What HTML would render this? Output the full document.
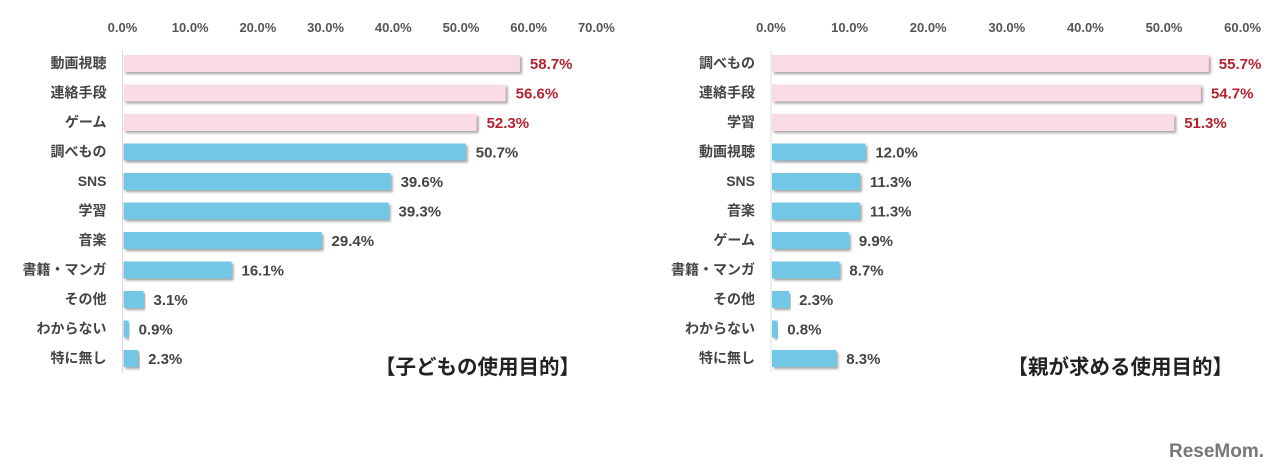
<!DOCTYPE html>
<html><head><meta charset="utf-8"><style>
html,body{margin:0;padding:0;background:#fff;width:1280px;height:473px;overflow:hidden}
svg{display:block}
text{font-family:"Liberation Sans","Noto Sans CJK JP",sans-serif}
</style></head><body>
<svg id="svg" width="1280" height="473">
<defs><filter id="sh" x="-5%" y="-20%" width="115%" height="160%"><feDropShadow dx="2" dy="2" stdDeviation="1.2" flood-color="#666" flood-opacity="0.6"/></filter></defs>
<text x="580" y="374" font-size="20.5" font-weight="bold" fill="#222" text-anchor="end">【子どもの使用目的】</text>
<text x="1233" y="374" font-size="20.5" font-weight="bold" fill="#222" text-anchor="end">【親が求める使用目的】</text>
<text x="1169" y="457" font-size="19" font-weight="bold" fill="#777">ReseMom.</text>
</svg>
<script>
const leftCategories=["動画視聴","連絡手段","ゲーム","調べもの","SNS","学習","音楽","書籍・マンガ","その他","わからない","特に無し"];
const leftValues=[58.7,56.6,52.3,50.7,39.6,39.3,29.4,16.1,3.1,0.9,2.3];
const leftTicks=[0,10,20,30,40,50,60,70];
const rightCategories=["調べもの","連絡手段","学習","動画視聴","SNS","音楽","ゲーム","書籍・マンガ","その他","わからない","特に無し"];
const rightValues=[55.7,54.7,51.3,12.0,11.3,11.3,9.9,8.7,2.3,0.8,8.3];
const rightTicks=[0,10,20,30,40,50,60];
const highlightCount=3;
const NS="http://www.w3.org/2000/svg";
const svg=document.getElementById("svg");
function mk(tag,attrs,txt){const e=document.createElementNS(NS,tag);for(const k in attrs)e.setAttribute(k,attrs[k]);if(txt!=null)e.textContent=txt;svg.appendChild(e);return e;}
function drawChart(prefix,cats,vals,ticks,x0,pxPer){
  const xs=v=>x0+v*pxPer;
  const ys=i=>63+i*29.5;
  let ax=mk("line",{x1:x0,x2:x0,y1:50,y2:373,stroke:"#ddd","stroke-width":1});
  
  
  ticks.forEach(t=>{
    let e=mk("text",{x:xs(t),y:32,"font-size":13,"font-weight":"bold",fill:"#555","text-anchor":"middle"},t.toFixed(1)+"%");
    
    
  });
  cats.forEach((c,i)=>{
    const hi=i<highlightCount;
    let l=mk("text",{x:x0-16,y:ys(i)+5,"font-size":14,"font-weight":"bold",fill:"#444","text-anchor":"end"},c);
    
    
    let b=mk("rect",{x:x0+1,y:ys(i)-8,width:Math.max(xs(vals[i])-x0-1,2),height:17,fill:hi?"#f8dbe7":"#72c8e4",filter:"url(#sh)"});
    
    
    let v=mk("text",{x:xs(vals[i])+10,y:ys(i)+6,"font-size":15,"font-weight":"bold",fill:hi?"#b3222d":"#444"},vals[i].toFixed(1)+"%");
    
    
  });
}
drawChart("left",leftCategories,leftValues,leftTicks,122.5,6.77);
drawChart("right",rightCategories,rightValues,rightTicks,771,7.86);
</script>
</body></html>
